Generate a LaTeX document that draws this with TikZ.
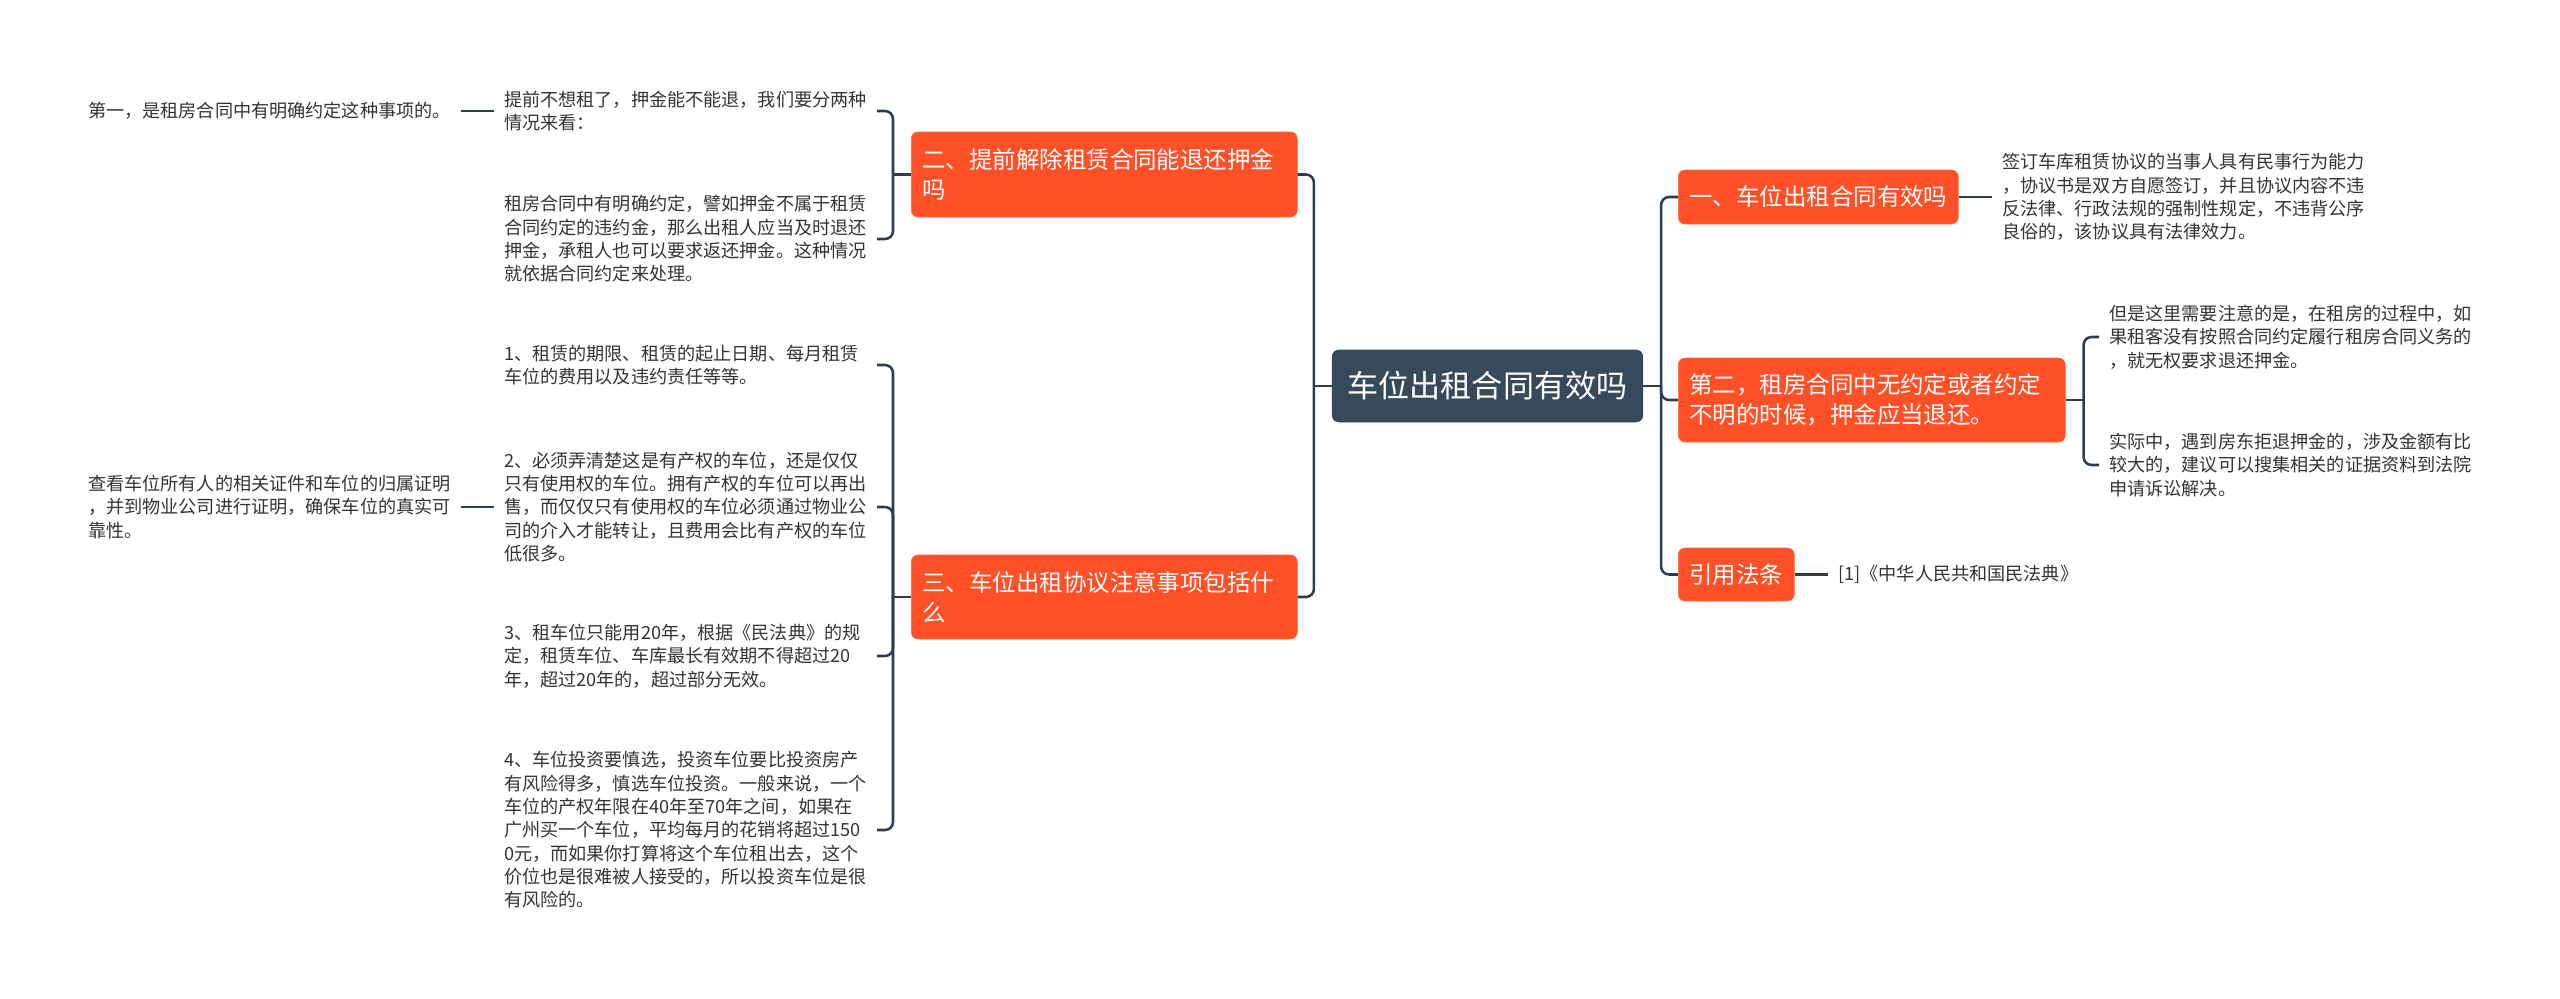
\documentclass[tikz,border=0pt]{standalone}
\usepackage{fontspec}
\setmainfont{Noto Sans CJK SC}

\definecolor{rootblue}{HTML}{374A5C}
\definecolor{branchred}{HTML}{FF5027}
\definecolor{linedark}{HTML}{2E3D4D}
\definecolor{txtgray}{HTML}{333333}

\tikzset{
  rootbox/.style={fill=rootblue, draw=rootblue, rounded corners=5pt, text=white,
    font=\fontsize{23.3pt}{28pt}\selectfont, minimum width=233pt, minimum height=54pt, inner sep=0pt},
  branchbox/.style={fill=branchred, draw=branchred!85!white, rounded corners=5pt, text=white,
    font=\fontsize{17.6pt}{22.5pt}\selectfont, align=left, inner xsep=8.25pt, inner ysep=0pt},
  leaftext/.style={text=txtgray, font=\fontsize{13.6pt}{17.5pt}\selectfont,
    text width=272pt, align=left, inner xsep=7.5pt, inner ysep=1pt},
  conn/.style={draw=linedark, line width=1.9pt, rounded corners=6pt},
}

\begin{document}
\begin{tikzpicture}[x=0.75pt,y=0.75pt,yscale=-1,xscale=1]
\useasboundingbox (0,0) rectangle (2560,999);

% Root
\node [rootbox] (root) at (1487.5,386) {车位出租合同有效吗};

% Left branches
\node [branchbox, anchor=west, text width=273pt, minimum height=63.75pt] (bzero) at (911,174.5) {二、提前解除租赁合同能退还押金\\吗};
\node [branchbox, anchor=west, text width=273pt, minimum height=63pt] (bthree) at (911,597) {三、车位出租协议注意事项包括什\\么};

% Right branches
\node [branchbox, anchor=west, text width=193.5pt, minimum height=40.5pt] (bone) at (1678,197) {一、车位出租合同有效吗};
\node [branchbox, anchor=west, text width=273.75pt, minimum height=63pt] (btwo) at (1678,400) {第二，租房合同中无约定或者约定\\不明的时候，押金应当退还。};
\node [branchbox, anchor=west, text width=70.5pt, minimum height=39.75pt] (blaw) at (1678,574.5) {引用法条};

% Text Node
\node [leaftext, anchor=east] (tplan) at (877,111) {提前不想租了，押金能不能退，我们要分两种\\情况来看：};
% Text Node
\node [leaftext, anchor=east] (tagree) at (877,239) {租房合同中有明确约定，譬如押金不属于租赁\\合同约定的违约金，那么出租人应当及时退还\\押金，承租人也可以要求返还押金。这种情况\\就依据合同约定来处理。};
% Text Node
\node [leaftext, anchor=east] (tfirst) at (461,111) {第一，是租房合同中有明确约定这种事项的。};
% Text Node
\node [leaftext, anchor=east] (tterm) at (877,365) {1、租赁的期限、租赁的起止日期、每月租赁\\车位的费用以及违约责任等等。};
% Text Node
\node [leaftext, anchor=east] (tright) at (877,507) {2、必须弄清楚这是有产权的车位，还是仅仅\\只有使用权的车位。拥有产权的车位可以再出\\售，而仅仅只有使用权的车位必须通过物业公\\司的介入才能转让，且费用会比有产权的车位\\低很多。};
% Text Node
\node [leaftext, anchor=east] (tcheck) at (461,507) {查看车位所有人的相关证件和车位的归属证明\\，并到物业公司进行证明，确保车位的真实可\\靠性。};
% Text Node
\node [leaftext, anchor=east] (tyears) at (877,656) {3、租车位只能用20年，根据《民法典》的规\\定，租赁车位、车库最长有效期不得超过20\\年，超过20年的，超过部分无效。};
% Text Node
\node [leaftext, anchor=east] (trisk) at (877,830) {4、车位投资要慎选，投资车位要比投资房产\\有风险得多，慎选车位投资。一般来说，一个\\车位的产权年限在40年至70年之间，如果在\\广州买一个车位，平均每月的花销将超过150\\0元，而如果你打算将这个车位租出去，这个\\价位也是很难被人接受的，所以投资车位是很\\有风险的。};
% Text Node
\node [leaftext, anchor=west] (tvalid) at (1992,197) {签订车库租赁协议的当事人具有民事行为能力\\，协议书是双方自愿签订，并且协议内容不违\\反法律、行政法规的强制性规定，不违背公序\\良俗的，该协议具有法律效力。};
% Text Node
\node [leaftext, anchor=west] (tnote) at (2099,337) {但是这里需要注意的是，在租房的过程中，如\\果租客没有按照合同约定履行租房合同义务的\\，就无权要求退还押金。};
% Text Node
\node [leaftext, anchor=west] (tsue) at (2099,465) {实际中，遇到房东拒退押金的，涉及金额有比\\较大的，建议可以搜集相关的证据资料到法院\\申请诉讼解决。};
% Text Node
\node [leaftext, anchor=west] (tcode) at (1828,574.5) {[1]《中华人民共和国民法典》};

% Trunks
\draw [conn] (root.west) -- ++(-18,0) coordinate (lj);
\draw [conn] (lj) |- (bzero.east);
\draw [conn] (lj) |- (bthree.east);
\draw [conn] (root.east) -- ++(18,0) coordinate (rj);
\draw [conn] (rj) |- (bone.west);
\draw [conn] (rj) |- (btwo.west);
\draw [conn] (rj) |- (blaw.west);

% Brackets
\draw [conn] (bzero.west) -- ++(-18,0) coordinate (jzero);
\draw [conn] (jzero) |- (tplan.east);
\draw [conn] (jzero) |- (tagree.east);
\draw [conn] (bthree.west) -- ++(-18,0) coordinate (jthree);
\draw [conn] (jthree) |- (tterm.east);
\draw [conn] (jthree) |- (tright.east);
\draw [conn] (jthree) |- (tyears.east);
\draw [conn] (jthree) |- (trisk.east);
\draw [conn] (btwo.east) -- ++(18,0) coordinate (jtwo);
\draw [conn] (jtwo) |- (tnote.west);
\draw [conn] (jtwo) |- (tsue.west);

% Straight Lines
\draw [conn] (tplan.west) -- (tfirst.east);
\draw [conn] (tright.west) -- (tcheck.east);
\draw [conn] (bone.east) -- (tvalid.west);
\draw [conn] (blaw.east) -- (tcode.west);

\end{tikzpicture}
\end{document}
